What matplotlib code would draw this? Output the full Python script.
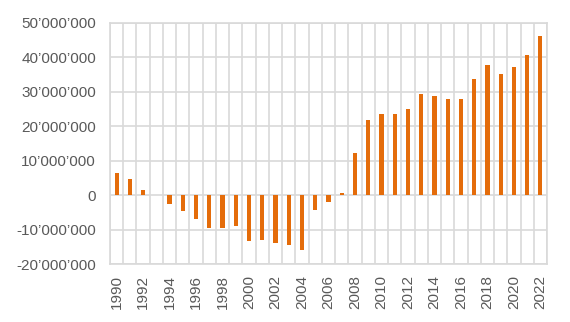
import matplotlib.pyplot as plt
from matplotlib.ticker import FuncFormatter, MultipleLocator, FixedLocator

# jährliche Werte 1990-2022
years = list(range(1990, 2023))
values = [6.5e6, 4.8e6, 1.6e6, 0.0, -2.7e6, -4.7e6, -7.0e6, -9.4e6, -9.4e6, -9.1e6,
          -13.4e6, -13.1e6, -14.0e6, -14.6e6, -16.0e6, -4.4e6, -2.1e6, 0.7e6, 12.1e6, 21.9e6,
          23.7e6, 23.7e6, 25.1e6, 29.5e6, 28.9e6, 27.8e6, 27.8e6, 33.6e6, 37.9e6, 35.3e6,
          37.1e6, 40.8e6, 46.1e6]
tick_years = years[::2]

plt.rcParams['font.family'] = ['Liberation Sans', 'DejaVu Sans']

fig = plt.figure(figsize=(5.7, 3.22), dpi=100)
ax = fig.add_axes([110 / 570, 1 - 264 / 322, 437 / 570, 241 / 322])

ax.bar(years, values, width=0.32, color='#E46C0A', zorder=3)

ax.set_xlim(years[0] - 0.5, years[-1] + 0.5)
ax.set_ylim(-20e6, 50e6)
ax.yaxis.set_major_locator(MultipleLocator(10e6))


def fmt(v, pos):
    return '{:,.0f}'.format(v).replace(',', '\u2019')


ax.yaxis.set_major_formatter(FuncFormatter(fmt))
ax.set_xticks(tick_years)
ax.set_xticklabels([str(y) for y in tick_years], rotation=90)
ax.xaxis.set_minor_locator(FixedLocator([y - 0.5 for y in years] + [years[-1] + 0.5]))

ax.grid(axis='y', which='major', color='#D9D9D9', linewidth=1.2, zorder=0)
ax.grid(axis='x', which='minor', color='#D9D9D9', linewidth=1.2, zorder=0)
ax.tick_params(axis='both', which='both', length=0, labelsize=11, colors='#595959')
ax.tick_params(axis='y', pad=10)
ax.tick_params(axis='x', pad=8)
for s in ax.spines.values():
    s.set_color('#D9D9D9')
    s.set_linewidth(1.2)

fig.savefig('out.png', dpi=100)
